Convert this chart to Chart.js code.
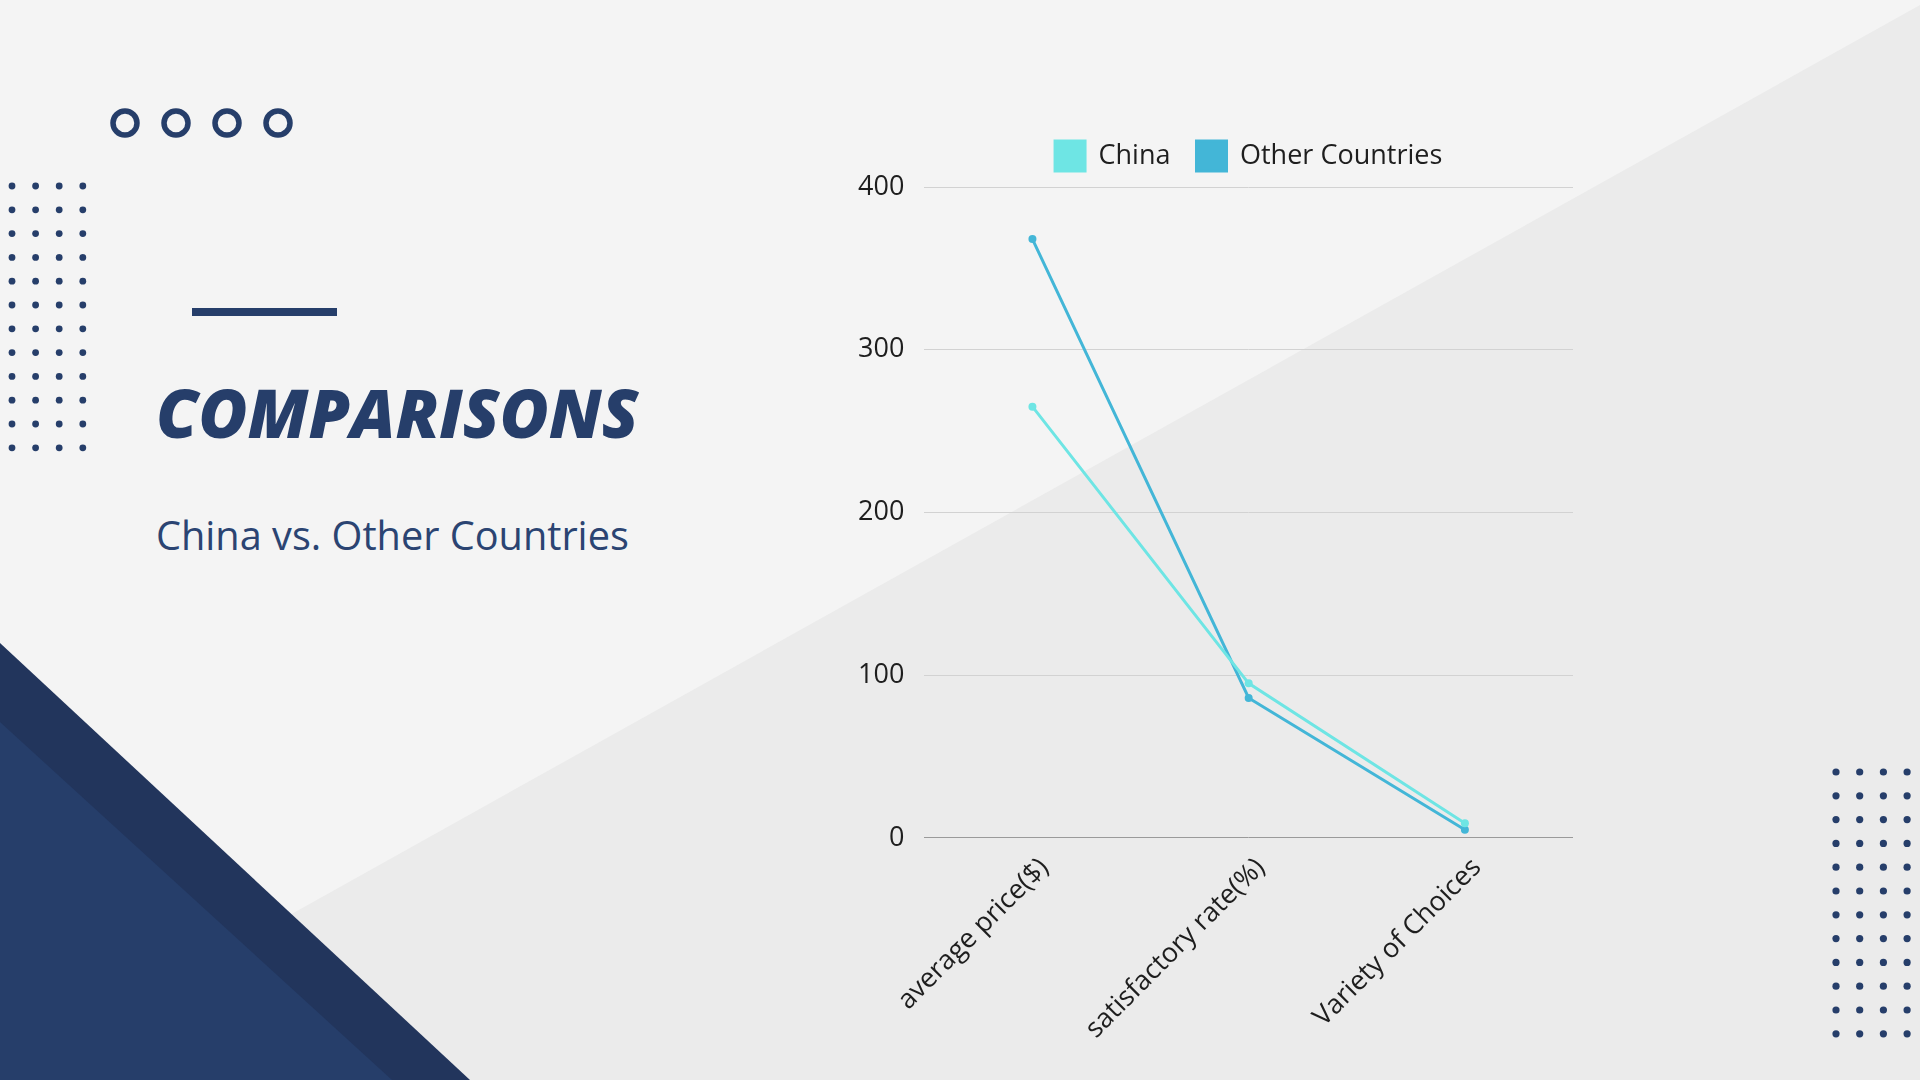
<!DOCTYPE html>
<html>
<head>
<meta charset="utf-8">
<script src="https://cdn.jsdelivr.net/npm/chart.js@4.4.1/dist/chart.umd.min.js"></script>
<style>
  html, body { margin: 0; padding: 0; }
  body { width: 1920px; height: 1080px; position: relative; overflow: hidden; background: #f4f4f4; font-family: 'Open Sans', sans-serif; }
  #bg { position: absolute; left: 0; top: 0; }
  .title { position: absolute; left: 156px; top: 379px; margin: 0; font-size: 67px; font-weight: 800; font-style: italic; color: #263e6a; letter-spacing: 0; line-height: 1; }
  .subtitle { position: absolute; left: 156px; top: 516px; margin: 0; font-size: 39.7px; font-weight: 400; color: #2b4472; line-height: 1; }
  .wrap { position: absolute; left: 838px; top: 115px; width: 755px; height: 944px; }
</style>
</head>
<body>
<svg id="bg" width="1920" height="1080"></svg>
<h1 class="title">COMPARISONS</h1>
<p class="subtitle">China vs. Other Countries</p>
<div class="wrap"><canvas id="chart"></canvas></div>
<script>
// --- chart data ---
const categories = ['average price($)', 'satisfactory rate(%)', 'Variety of Choices'];
const chinaValues = [265, 95, 9];
const otherValues = [368, 86, 5];
const seriesNames = ['China', 'Other Countries'];
const yMin = 0;
const yMax = 400;
const yStep = 100;

const CHINA_COLOR = '#6ee5e4';
const OTHER_COLOR = '#43b6d7';
const NAVY = '#263e6a';

// --- background decoration ---
const svgNS = 'http://www.w3.org/2000/svg';
const bg = document.getElementById('bg');
function add(tag, attrs) {
  const el = document.createElementNS(svgNS, tag);
  for (const k in attrs) el.setAttribute(k, attrs[k]);
  bg.appendChild(el);
  return el;
}
add('polygon', { points: '1920,5 1920,1080 -6,1080', fill: '#ebebeb' });
add('polygon', { points: '0,643 470,1080 0,1080', fill: '#22355c' });
add('polygon', { points: '0,722 392,1080 0,1080', fill: '#263e6a' });

[125, 176, 227, 278].forEach(cx => {
  add('circle', { cx, cy: 123, r: 12, fill: 'none', stroke: NAVY, 'stroke-width': 5.5 });
});
add('rect', { x: 192, y: 308, width: 145, height: 8, fill: NAVY });

for (let r = 0; r < 12; r++) {
  for (let c = 0; c < 4; c++) {
    add('circle', { cx: 12 + c * 23.6, cy: 186 + r * 23.8, r: 3.4, fill: NAVY });
    add('circle', { cx: 1836 + c * 23.7, cy: 772 + r * 23.8, r: 3.6, fill: NAVY });
  }
}

// --- chart ---
Chart.defaults.font.family = "'Open Sans', sans-serif";
Chart.defaults.color = '#1e1e1e';

// a little more room under the legend
const legendGap = {
  id: 'legendGap',
  afterInit(chart) {
    const fit = chart.legend.fit;
    chart.legend.fit = function () {
      fit.call(this);
      this.height += 6;
    };
  }
};

const ctx = document.getElementById('chart').getContext('2d');
new Chart(ctx, {
  type: 'line',
  data: {
    labels: categories,
    datasets: [
      {
        label: seriesNames[0],
        data: chinaValues,
        borderColor: CHINA_COLOR,
        backgroundColor: CHINA_COLOR,
        borderWidth: 3,
        pointRadius: 4,
        pointBorderWidth: 0,
        tension: 0
      },
      {
        label: seriesNames[1],
        data: otherValues,
        borderColor: OTHER_COLOR,
        backgroundColor: OTHER_COLOR,
        borderWidth: 3,
        pointRadius: 4,
        pointBorderWidth: 0,
        tension: 0
      }
    ]
  },
  plugins: [legendGap],
  options: {
    responsive: true,
    maintainAspectRatio: false,
    animation: false,
    layout: { padding: { left: 0, right: 20, top: 0, bottom: 0 } },
    plugins: {
      legend: {
        display: true,
        position: 'top',
        fullSize: false,
        labels: {
          boxWidth: 30,
          boxHeight: 30,
          padding: 26,
          color: '#1e1e1e',
          font: { size: 27 }
        }
      },
      tooltip: { enabled: false }
    },
    scales: {
      x: {
        offset: true,
        grid: { display: false, drawTicks: false },
        border: { display: false },
        ticks: {
          minRotation: 45,
          maxRotation: 45,
          padding: 14,
          labelOffset: 12,
          color: '#1e1e1e',
          font: { size: 27 }
        }
      },
      y: {
        min: yMin,
        max: yMax,
        ticks: {
          stepSize: yStep,
          padding: 20,
          color: '#1e1e1e',
          font: { size: 27 }
        },
        grid: {
          drawTicks: false,
          color: c => (c.tick && c.tick.value === 0 ? '#9a9a9a' : '#d2d2d2'),
          lineWidth: 1
        },
        border: { display: false }
      }
    }
  }
});
</script>
</body>
</html>
